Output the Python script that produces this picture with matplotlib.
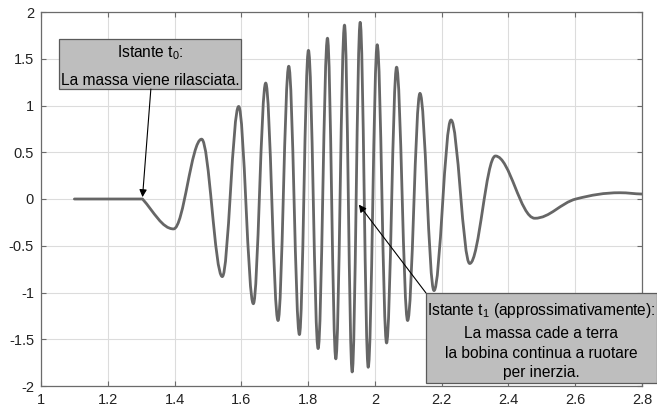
import matplotlib
matplotlib.use("Agg")
import matplotlib.pyplot as plt
from matplotlib.path import Path
from matplotlib.patches import PathPatch, Rectangle

plt.rcParams['font.family'] = ['Liberation Sans', 'DejaVu Sans']
plt.rcParams['mathtext.default'] = 'regular'

# segnale: tratto piatto iniziale, poi estremi
t_start = 1.10
t_ext = [1.304, 1.397, 1.481, 1.543, 1.592, 1.636, 1.673, 1.710, 1.742, 1.774,
         1.801, 1.830, 1.858, 1.883, 1.909, 1.932, 1.956, 1.980, 2.007, 2.035,
         2.065, 2.098, 2.135, 2.177, 2.228, 2.284, 2.361, 2.479, 2.602, 2.734, 2.800]
v_ext = [0.0, -0.32, 0.64, -0.83, 0.99, -1.12, 1.24, -1.30, 1.42, -1.45,
         1.59, -1.60, 1.72, -1.71, 1.86, -1.85, 1.89, -1.80, 1.65, -1.54,
         1.41, -1.30, 1.13, -0.98, 0.845, -0.69, 0.46, -0.206, 0.0, 0.067, 0.053]
# pendenza locale in ogni punto (0 agli estremi)
slopes = [-4.0] + [0.0] * 27 + [0.9, 0.0, -0.1]

x_ticks = [1, 1.2, 1.4, 1.6, 1.8, 2, 2.2, 2.4, 2.6, 2.8]
x_labels = ['1', '1.2', '1.4', '1.6', '1.8', '2', '2.2', '2.4', '2.6', '2.8']
y_ticks = [-2, -1.5, -1, -0.5, 0, 0.5, 1, 1.5, 2]
y_labels = ['-2', '-1.5', '-1', '-0.5', '0', '0.5', '1', '1.5', '2']

line_col = '#666666'
axis_col = '#6b6b6b'

fig = plt.figure(figsize=(6.57, 4.08), dpi=100)
ax = fig.add_axes([41/657, 22/408, 601/657, 374/408])

# curva di Bezier tra estremi successivi (tangenti dalle pendenze)
k = 0.363
verts = [(t_start, v_ext[0]), (t_ext[0], v_ext[0])]
codes = [Path.MOVETO, Path.LINETO]
for i in range(len(t_ext) - 1):
    x0, y0, s0 = t_ext[i], v_ext[i], slopes[i]
    x1, y1, s1 = t_ext[i+1], v_ext[i+1], slopes[i+1]
    dx = x1 - x0
    verts += [(x0 + k*dx, y0 + s0*k*dx), (x1 - k*dx, y1 - s1*k*dx), (x1, y1)]
    codes += [Path.CURVE4] * 3
ax.add_patch(PathPatch(Path(verts, codes), facecolor='none', edgecolor=line_col,
                       lw=2.0, capstyle='round', joinstyle='round', zorder=3))

ax.set_xlim(1, 2.8)
ax.set_ylim(-2, 2)
ax.set_xticks(x_ticks)
ax.set_xticklabels(x_labels)
ax.set_yticks(y_ticks)
ax.set_yticklabels(y_labels)
ax.grid(True, color='#dcdcdc', lw=0.8)
ax.set_axisbelow(True)
for s in ax.spines.values():
    s.set_color(axis_col)
    s.set_linewidth(0.9)
ax.tick_params(direction='in', length=3.5, width=0.8, color=axis_col,
               top=True, right=True, labelsize=10.5, labelcolor='#222222', pad=5)

# riquadri di testo
box_fc = '#bebebe'
box_ec = '#5a5a5a'
ax.add_patch(Rectangle((1.054, 1.176), 0.545, 0.535, facecolor=box_fc,
                       edgecolor=box_ec, lw=0.9, zorder=5, clip_on=False))
ax.text(1.326, 1.519, r'Istante t$_0$:', ha='center', va='baseline', fontsize=11.2, zorder=6)
ax.text(1.326, 1.219, 'La massa viene rilasciata.', ha='center', va='baseline',
        fontsize=11.2, zorder=6)

ax.add_patch(Rectangle((2.153, -1.968), 0.691, 0.963, facecolor=box_fc,
                       edgecolor=box_ec, lw=0.9, zorder=5, clip_on=False))
lines2 = [r'Istante t$_1$ (approssimativamente):', 'La massa cade a terra',
          'la bobina continua a ruotare', 'per inerzia.']
y2 = [-1.241, -1.483, -1.697, -1.901]
for txt, yy in zip(lines2, y2):
    ax.text(2.4985, yy, txt, ha='center', va='baseline', fontsize=11.2, zorder=6,
            clip_on=False)

arrow = dict(arrowstyle='-|>', color='black', lw=0.8, mutation_scale=11,
             shrinkA=0, shrinkB=0)
ax.annotate('', xy=(1.304, 0.02), xytext=(1.329, 1.176), arrowprops=arrow, zorder=7)
ax.annotate('', xy=(1.952, -0.06), xytext=(2.153, -1.005), arrowprops=arrow, zorder=7)

fig.savefig('out.png', dpi=100)
